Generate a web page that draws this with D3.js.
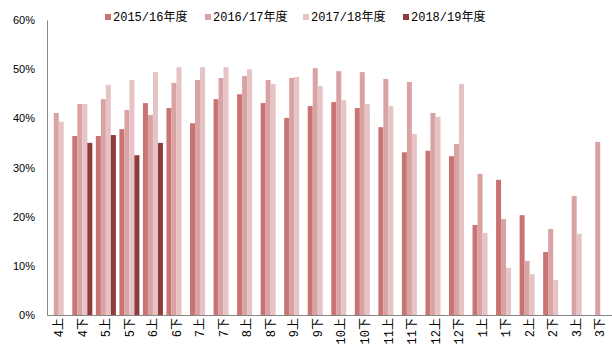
<!DOCTYPE html>
<html>
<head>
<meta charset="utf-8">
<script src="https://cdn.jsdelivr.net/npm/d3@7"></script>
<style>
  body { margin: 0; background: #fff; }
  svg { display: block; }
</style>
</head>
<body>
<svg id="chart" width="612" height="352"></svg>
<script>
// half-month periods, 4上 .. 3下
const categories = ["4上", "4下", "5上", "5下", "6上", "6下", "7上", "7下", "8上", "8下",
  "9上", "9下", "10上", "10下", "11上", "11下", "12上", "12下", "1上", "1下", "2上", "2下", "3上", "3下"];

const seriesNames = ["2015/16年度", "2016/17年度", "2017/18年度", "2018/19年度"];

const s2015 = [null, 0.364, 0.364, 0.378, 0.431, 0.421, 0.390, 0.439, 0.449, 0.431,
  0.401, 0.425, 0.433, 0.421, 0.382, 0.331, 0.334, 0.323, 0.183, 0.275, 0.203, 0.128, null, null];
const s2016 = [0.411, 0.429, 0.439, 0.417, 0.407, 0.472, 0.478, 0.482, 0.486, 0.478,
  0.482, 0.502, 0.496, 0.494, 0.480, 0.474, 0.411, 0.348, 0.287, 0.195, 0.110, 0.175, 0.242, 0.352];
const s2017 = [0.393, 0.429, 0.468, 0.478, 0.494, 0.504, 0.504, 0.504, 0.500, 0.470,
  0.484, 0.466, 0.437, 0.429, 0.425, 0.368, 0.403, 0.470, 0.167, 0.096, 0.083, 0.071, 0.165, null];
const s2018 = [null, 0.350, 0.366, 0.325, 0.350, null, null, null, null, null,
  null, null, null, null, null, null, null, null, null, null, null, null, null, null];

const yTicks = [0, 0.1, 0.2, 0.3, 0.4, 0.5, 0.6];
const colors = ["#c97472", "#d9a3a3", "#e6c4c5", "#8e3b3b"];

const allSeries = [s2015, s2016, s2017, s2018];
const data = categories.map((c, i) => ({
  cat: c,
  values: seriesNames.map((name, k) => ({ name, value: allSeries[k][i] })),
}));

const margin = { top: 20, right: 0, bottom: 37, left: 47 };
const svg = d3.select("#chart");
const W = +svg.attr("width");
const H = +svg.attr("height");

const x0 = d3.scaleBand()
  .domain(categories)
  .range([margin.left, W - margin.right])
  .paddingInner(0.15)
  .paddingOuter(0.075);
const x1 = d3.scaleBand().domain(seriesNames).range([0, x0.bandwidth()]);
const yScale = d3.scaleLinear().domain([0, 0.6]).range([H - margin.bottom, margin.top]);
const color = d3.scaleOrdinal().domain(seriesNames).range(colors);

// bars
svg.append("g")
  .selectAll("g")
  .data(data)
  .join("g")
  .attr("transform", (d) => `translate(${x0(d.cat)},0)`)
  .selectAll("rect")
  .data((d) => d.values.filter((v) => v.value != null))
  .join("rect")
  .attr("x", (d) => x1(d.name))
  .attr("y", (d) => yScale(d.value))
  .attr("width", x1.bandwidth())
  .attr("height", (d) => yScale(0) - yScale(d.value))
  .attr("fill", (d) => color(d.name));

// y axis
const yAxis = svg.append("g")
  .attr("transform", `translate(${margin.left},0)`)
  .call(d3.axisLeft(yScale).tickValues(yTicks).tickFormat(d3.format(".0%")).tickSize(0).tickPadding(12));
yAxis.select(".domain").attr("stroke", "#868686");
yAxis.selectAll("text")
  .attr("font-family", "Liberation Sans, Arial, sans-serif")
  .attr("font-size", 11)
  .attr("fill", "#000");

// x axis
const xAxis = svg.append("g")
  .attr("transform", `translate(0,${yScale(0)})`)
  .call(d3.axisBottom(x0).tickSize(0).tickSizeOuter(0));
xAxis.select(".domain").attr("stroke", "#868686");
xAxis.selectAll("text")
  .attr("font-family", "Liberation Mono, Noto Sans CJK SC, monospace")
  .attr("font-size", 12)
  .attr("fill", "#000")
  .attr("text-anchor", "end")
  .attr("dy", "0.35em")
  .attr("transform", "translate(0,3) rotate(-90)")
  .attr("x", 0)
  .attr("y", 0);

// legend
const legendX = [105, 205, 303, 403];
const legend = svg.append("g")
  .selectAll("g")
  .data(seriesNames)
  .join("g")
  .attr("transform", (d, i) => `translate(${legendX[i]},17)`);
legend.append("rect")
  .attr("x", 0)
  .attr("y", -3)
  .attr("width", 6)
  .attr("height", 6)
  .attr("fill", (d) => color(d));
legend.append("text")
  .attr("x", 8)
  .attr("dy", "0.35em")
  .attr("font-family", "Liberation Mono, Noto Sans CJK SC, monospace")
  .attr("font-size", 12)
  .attr("fill", "#000")
  .text((d) => d);
</script>
</body>
</html>
